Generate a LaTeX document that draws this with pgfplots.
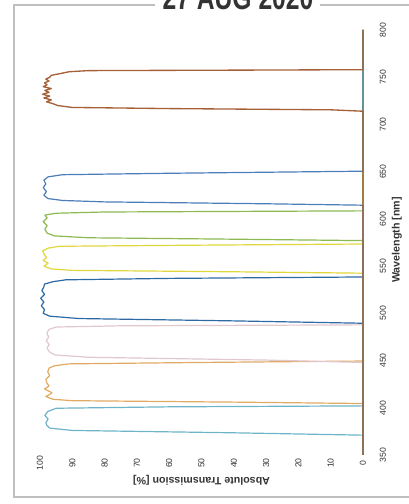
\documentclass[border=0pt]{standalone}
\usepackage{pgfplots}
\pgfplotsset{compat=1.18}
\usepackage{pgfplotstable}
\usepackage{fontspec}
\setmainfont{Liberation Sans}

\definecolor{brownC}{RGB}{166,96,56}
\definecolor{blueA}{RGB}{75,125,185}
\definecolor{greenC}{RGB}{140,185,80}
\definecolor{yellowC}{RGB}{225,215,60}
\definecolor{blueB}{RGB}{45,105,165}
\definecolor{pinkC}{RGB}{225,200,205}
\definecolor{orangeC}{RGB}{225,170,100}
\definecolor{lblueC}{RGB}{110,180,200}

\pgfplotstableread{
wl T
350 0
371 0
373.5 40
376 90
378.5 97
381 97.8
384 98.2
388 97.5
392 98.5
396 97.6
399.5 95
401 60
402 0
800 0
}\tlblue
\pgfplotstableread{
wl T
350 0
404.5 0
406 40
407.5 90
409 96
412 98.2
414 97
416 96.3
418 97.5
420 98.6
423 97.2
426 97.8
430 98.2
434 97
438 97.6
442 97.2
444.5 95.5
446.5 91
448 50
449.5 0
800 0
}\torange
\pgfplotstableread{
wl T
350 0
448 0
450.5 30
453.5 85
456 95.5
459 97
463 97.8
467 97.2
471 98
475 97.3
479 97.9
483 97.2
485.5 95
486.8 75
487.8 0
800 0
}\tpink
\pgfplotstableread{
wl T
350 0
489.5 0
492 40
494.5 88
497 97
500 99
504 98.6
508 99.6
512 98.8
516 99.8
520 98.6
524 99.4
528 98.8
531 98.6
533.5 96
535.5 92
537 60
538.5 0
800 0
}\tblueB
\pgfplotstableread{
wl T
350 0
542.5 0
544 40
545.5 90
547 96.5
550 98.8
553 97.5
556 99
559 98
562 98.6
566 99.2
569 97.5
571 94
572.2 50
573.4 0
800 0
}\tyellow
\pgfplotstableread{
wl T
350 0
577 0
578.5 40
580 85
582 95.5
585 97.8
589 98.5
593 97.8
597 99
601 97.8
604 98.5
606 95
607.3 80
608.5 0
800 0
}\tgreen
\pgfplotstableread{
wl T
350 0
614.5 0
616 30
618 80
619.5 93
621.5 97.5
625 98.8
629 98
633 99
637 98.2
641 98.8
644.5 97.5
646.8 93
648.3 60
650.5 0
800 0
}\tblueA
\pgfplotstableread{
wl T
350 0
714 0
715.5 10
716.8 60
718 90
720 94.5
722 96
724 98
726 96.5
728 98.8
730 97
732 99.2
734 97.2
736 98.5
738 96.5
740 99
742 97.8
744 98.6
746 97.2
748 98.2
750 97
752 96.5
754 93.5
755.8 91
757 85
757.6 30
758 0
800 0
}\tbrown

\begin{document}
\begin{tikzpicture}
\useasboundingbox (0,0) rectangle (306.75pt,378pt);
% scan frame
\draw[black!25, line width=0.8pt] (116pt,374.25pt) -- (10.5pt,374.25pt) -- (10.5pt,5.25pt) -- (310pt,5.25pt);
\draw[black!25, line width=0.8pt] (240pt,374.25pt) -- (310pt,374.25pt);
% date stamp
\node[anchor=base, xscale=0.74, text=black!80, inner sep=0pt, font=\fontsize{25}{25}\selectfont\bfseries] at (178.5pt,370.5pt) {27 AUG 2020};
\begin{axis}[
  at={(30pt,36.75pt)}, anchor=south west,
  scale only axis, width=242.25pt, height=318.75pt,
  xmin=0, xmax=100, x dir=reverse,
  ymin=350, ymax=800,
  axis line style={draw=none},
  major tick length=0pt,
  xtick={0,10,...,100},
  ytick={350,400,...,800},
  yticklabel pos=right,
  /pgf/number format/assume math mode=true,
  xticklabel style={rotate=90, anchor=center, font=\fontsize{6.5}{7}\selectfont, text=black!80},
  yticklabel style={rotate=90, anchor=center, font=\fontsize{6.5}{7}\selectfont, text=black!80},
  xticklabel shift=6pt,
  yticklabel shift=15pt,
  xlabel={Absolute Transmission [\%]},
  ylabel={Wavelength [nm]},
  every axis x label/.style={at={(axis description cs:0.5,-0.059)}, rotate=180, anchor=center, font=\fontsize{8}{9}\selectfont\bfseries, text=black!80},
  every axis y label/.style={at={(axis description cs:1.105,0.506)}, rotate=90, anchor=center, font=\fontsize{8}{9}\selectfont\bfseries, text=black!80},
  clip=false,
  every axis plot/.append style={line width=0.9pt, line join=round},
]
\addplot[lblueC] table[x=T, y=wl] {\tlblue};
\addplot[orangeC] table[x=T, y=wl] {\torange};
\addplot[pinkC] table[x=T, y=wl] {\tpink};
\addplot[blueB] table[x=T, y=wl] {\tblueB};
\addplot[yellowC] table[x=T, y=wl] {\tyellow};
\addplot[greenC] table[x=T, y=wl] {\tgreen};
\addplot[blueA] table[x=T, y=wl] {\tblueA};
\addplot[brownC, line width=1pt] table[x=T, y=wl] {\tbrown};
\end{axis}
\end{tikzpicture}
\end{document}
